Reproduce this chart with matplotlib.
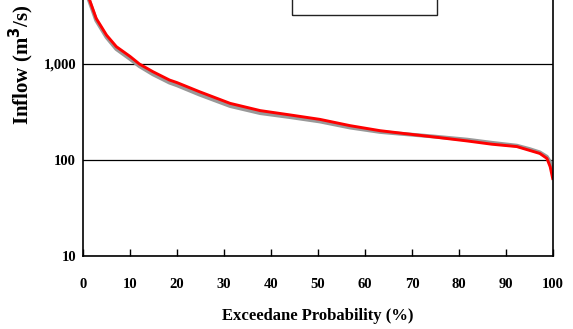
import numpy as np
import matplotlib
matplotlib.use("Agg")
import matplotlib.pyplot as plt
from matplotlib.patches import Rectangle
from matplotlib.ticker import FixedLocator, FuncFormatter

# exceedance probability (%)
prob = [0, 1, 1.4, 2.8, 5, 7.1, 10, 12, 14.9, 18.4, 20, 24.8, 31.3, 37.7,
        44, 50.4, 56.8, 63.2, 67.4, 75, 81.7, 87, 92.3, 95, 97.2, 98.7,
        99.4, 100]
# inflow (m3/s), gray series
flow_gray = [7800, 5000, 4450, 2850, 1900, 1430, 1130, 950, 780, 640, 600,
             480, 365, 308, 280, 252, 218, 196, 188, 175, 163, 151, 141,
             130, 120, 108, 95, 72]
# inflow (m3/s), red series
flow_red = [8000, 5200, 4640, 2990, 2000, 1515, 1200, 1000, 830, 681, 640,
            514, 389, 327, 295, 265, 228, 202, 191, 173, 158, 146, 138,
            126, 117, 104, 85, 62]

y_ticks = [10, 100, 1000]
x_ticks = list(range(0, 101, 10))

plt.rcParams['font.family'] = ['Liberation Serif', 'DejaVu Serif']
plt.rcParams['font.weight'] = 'bold'

fig = plt.figure(figsize=(5.73, 3.29), dpi=100)
W, H = 573.0, 329.0
# axes extends above the visible figure (top of the chart is cut off)
ax = fig.add_axes([83 / W, 1 - 256 / H, 470 / W, 384 / H])

ax.plot(prob, flow_gray, color='#999999', lw=2.8, solid_capstyle='butt')
ax.plot(prob, flow_red, color='#ff0000', lw=2.1, solid_capstyle='butt')

ax.set_yscale('log')
ax.set_ylim(10, 100000)
ax.set_xlim(0, 100)

ax.yaxis.set_major_locator(FixedLocator(y_ticks))
ax.yaxis.set_minor_locator(FixedLocator([]))
ax.yaxis.set_major_formatter(FuncFormatter(lambda v, p: f"{int(round(v)):,}"))
ax.set_xticks(x_ticks)

ax.grid(axis='y', which='major', color='black', lw=0.9)
ax.tick_params(axis='y', length=0, pad=5, labelsize=10.5)
ax.tick_params(axis='x', direction='in', length=5, width=1, pad=16,
               labelsize=10.5, top=False)

for s in ['left', 'bottom', 'right']:
    ax.spines[s].set_color('black')
    ax.spines[s].set_linewidth(1.2)
ax.spines['top'].set_visible(False)

ax.set_xlabel('Exceedane Probability (%)', fontsize=12, fontweight='bold',
              labelpad=12)
ax.set_ylabel('Inflow (m$^\\mathbf{3}$/s)', fontsize=15, fontweight='bold')
ax.yaxis.set_label_coords(-0.1, 0.498)

# legend frame (contents are cut off by the top of the image)
fig.patches.append(Rectangle((292 / W, 1 - 15 / H), 145 / W, 60 / H,
                             transform=fig.transFigure, fill=False,
                             edgecolor='#222222', lw=1.0))

fig.savefig('out.png', dpi=100)
